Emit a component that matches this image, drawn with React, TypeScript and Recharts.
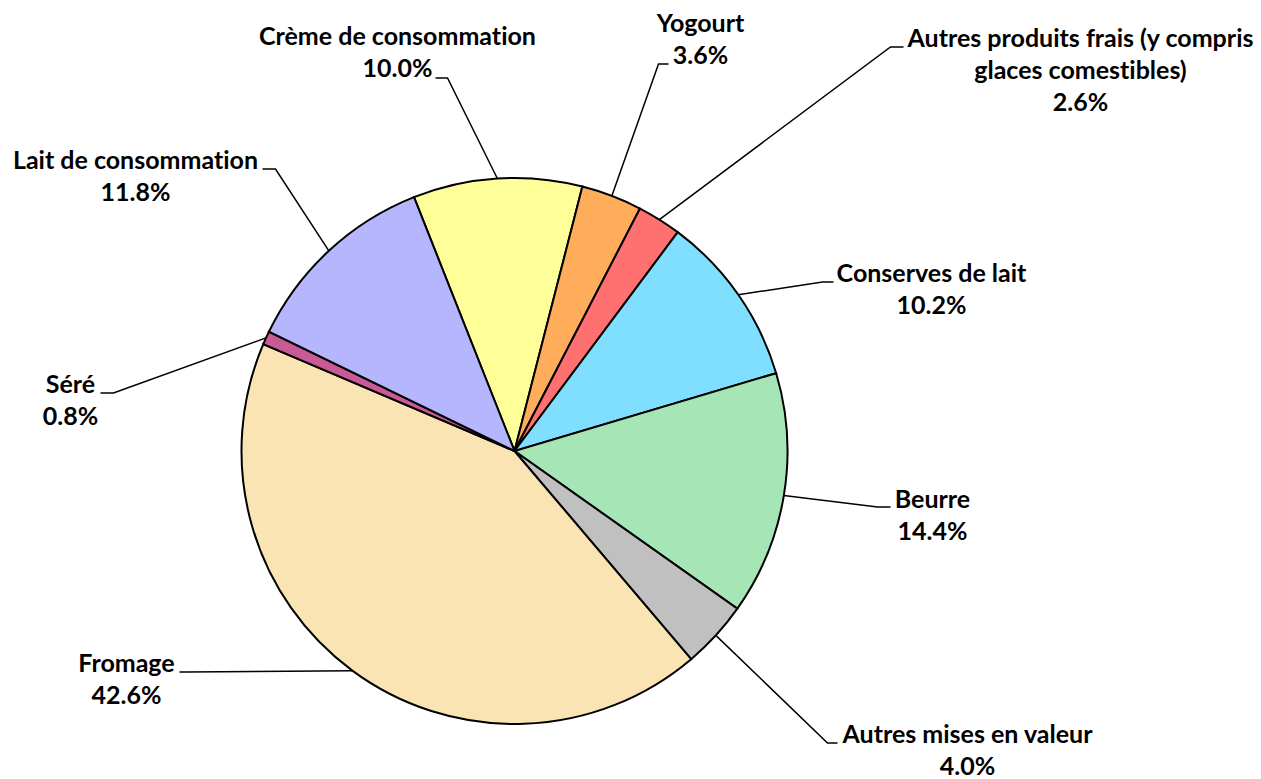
import { PieChart, Pie, Cell } from "recharts";

const categories = [
  "Crème de consommation",
  "Yogourt",
  "Autres produits frais (y compris\nglaces comestibles)",
  "Conserves de lait",
  "Beurre",
  "Autres mises en valeur",
  "Fromage",
  "Séré",
  "Lait de consommation",
];

const shares = [10.0, 3.6, 2.6, 10.2, 14.4, 4.0, 42.6, 0.8, 11.8];

const colors = [
  "#FFFF99",
  "#FFAD5B",
  "#FF7070",
  "#80DFFF",
  "#A6E6B6",
  "#C0C0C0",
  "#FAE4B4",
  "#C85A96",
  "#B6B6FF",
];

// where each label box sits, relative to the pie centre:
// tx/ty = text centre and first baseline, ex/ey = leader elbow, hx = end of the short tail
const labelSpots = [
  { tx: -117, ty: -406, ex: -67, ey: -373, hx: -79 },
  { tx: 186, ty: -419, ex: 144, ey: -387, hx: 154 },
  { tx: 566, ty: -404, ex: 376, ey: -404, hx: 389 },
  { tx: 417, ty: -169, ex: 308, ey: -169, hx: 319 },
  { tx: 418, ty: 57, ex: 363, ey: 56, hx: 376 },
  { tx: 453, ty: 292, ex: 313, ey: 292, hx: 323 },
  { tx: -388, ty: 221, ex: -329, ey: 221, hx: -335 },
  { tx: -444, ty: -58, ex: -401, ey: -58, hx: -414 },
  { tx: -379, ty: -282, ex: -239, ey: -282, hx: -252 },
];

const data = categories.map((name, i) => ({ name, value: shares[i] }));

const RAD = Math.PI / 180;

const renderLabel = (props: any) => {
  const { cx, cy, midAngle, outerRadius, index, value } = props;
  const spot = labelSpots[index];
  const ax = cx + outerRadius * Math.cos(-midAngle * RAD);
  const ay = cy + outerRadius * Math.sin(-midAngle * RAD);
  const lines = [...categories[index].split("\n"), `${Number(value).toFixed(1)}%`];
  const x = cx + spot.tx;
  return (
    <g key={`label-${index}`}>
      <polyline
        points={`${ax},${ay} ${cx + spot.ex},${cy + spot.ey} ${cx + spot.hx},${cy + spot.ey}`}
        fill="none"
        stroke="#000"
        strokeWidth={1.5}
      />
      <text
        x={x}
        y={cy + spot.ty}
        textAnchor="middle"
        fontFamily="Lato, 'Open Sans', sans-serif"
        fontWeight={700}
        fontSize={25}
        fill="#000"
        style={{ fontVariantLigatures: "none" }}
      >
        {lines.map((line, i) => (
          <tspan key={i} x={x} dy={i === 0 ? 0 : 32}>
            {line}
          </tspan>
        ))}
      </text>
    </g>
  );
};

export default function App() {
  return (
    <div style={{ position: "absolute", left: 0, top: 0, width: 1261, height: 779, background: "#fff" }}>
      <PieChart width={1261} height={779} margin={{ top: 0, right: 0, bottom: 0, left: 0 }}>
        <Pie
          data={data}
          dataKey="value"
          nameKey="name"
          cx={514.5}
          cy={451}
          outerRadius={273}
          startAngle={111.6}
          endAngle={-248.4}
          stroke="#000"
          strokeWidth={2}
          label={renderLabel}
          labelLine={false}
          isAnimationActive={false}
        >
          {data.map((d, i) => (
            <Cell key={d.name} fill={colors[i]} />
          ))}
        </Pie>
      </PieChart>
    </div>
  );
}
